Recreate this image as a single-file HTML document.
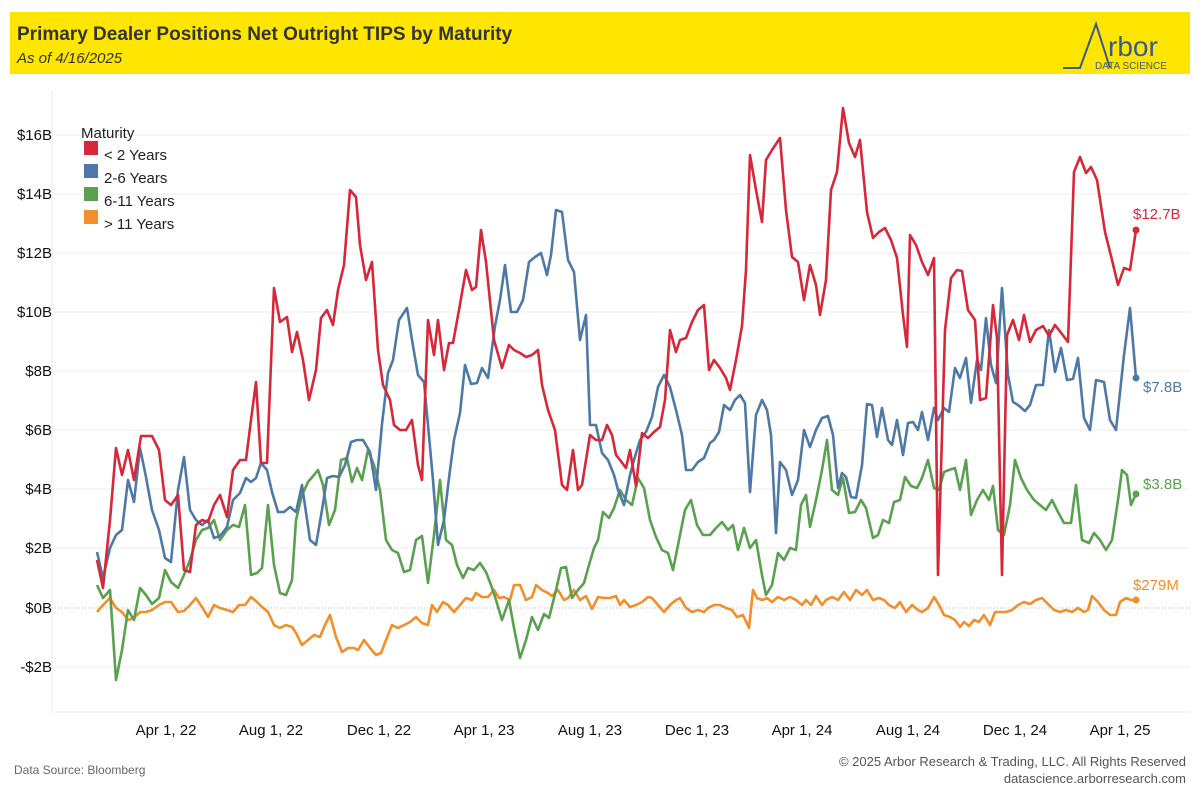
<!DOCTYPE html>
<html><head><meta charset="utf-8"><style>
body{margin:0;width:1200px;height:800px;background:#fff;font-family:"Liberation Sans",sans-serif;overflow:hidden}
</style></head><body>
<svg width="1200" height="800" xmlns="http://www.w3.org/2000/svg" font-family="Liberation Sans, sans-serif">
<rect x="10" y="12" width="1180" height="62" fill="#ffe600"/>
<text x="17" y="40" font-size="19" font-weight="bold" fill="#333">Primary Dealer Positions Net Outright TIPS by Maturity</text>
<text x="17" y="63" font-size="15" font-style="italic" fill="#333">As of 4/16/2025</text>
<path d="M1063 68 L1080 68 L1096 24 L1110 68" fill="none" stroke="#3a5a8c" stroke-width="2"/>
<text x="1108" y="56" font-size="28" fill="#3a5a8c">rbor</text>
<text x="1095" y="69" font-size="10" fill="#3a5a8c">DATA SCIENCE</text>
<g stroke="#ececec" stroke-width="1">
<line x1="52" x2="1190" y1="135" y2="135"/><line x1="52" x2="1190" y1="194" y2="194"/><line x1="52" x2="1190" y1="253" y2="253"/><line x1="52" x2="1190" y1="312" y2="312"/><line x1="52" x2="1190" y1="371" y2="371"/><line x1="52" x2="1190" y1="430" y2="430"/><line x1="52" x2="1190" y1="489" y2="489"/><line x1="52" x2="1190" y1="548" y2="548"/><line x1="52" x2="1190" y1="667" y2="667"/>
<line x1="52" x2="52" y1="90" y2="712"/><line x1="52" x2="1190" y1="712" y2="712"/>
</g>
<line x1="52" x2="1190" y1="608" y2="608" stroke="#bbb" stroke-dasharray="1,2"/>
<g font-size="15" fill="#111" text-anchor="end">
<text x="52" y="140">$16B</text><text x="52" y="199">$14B</text><text x="52" y="258">$12B</text><text x="52" y="317">$10B</text><text x="52" y="376">$8B</text><text x="52" y="435">$6B</text><text x="52" y="494">$4B</text><text x="52" y="553">$2B</text><text x="52" y="613">$0B</text><text x="52" y="672">-$2B</text>
</g>
<g font-size="15" fill="#111" text-anchor="middle">
<text x="166" y="735">Apr 1, 22</text><text x="271" y="735">Aug 1, 22</text><text x="379" y="735">Dec 1, 22</text><text x="484" y="735">Apr 1, 23</text><text x="590" y="735">Aug 1, 23</text><text x="697" y="735">Dec 1, 23</text><text x="802" y="735">Apr 1, 24</text><text x="908" y="735">Aug 1, 24</text><text x="1015" y="735">Dec 1, 24</text><text x="1120" y="735">Apr 1, 25</text>
</g>
<g fill="none" stroke-width="2.6" stroke-linejoin="round">
<polyline stroke="#f28e2b" points="97,612 103,605 110,598 116,608 122,612 128,620 134,618 140,612 146,612 152,610 159,605 165,602 171,602 178,612 184,611 190,605 196,598 202,607 208,617 214,605 220,608 227,610 233,612 239,605 245,605 251,597 257,602 262,607 268,612 274,625 280,628 286,625 292,627 296,633 302,645 308,640 314,635 320,637 325,625 330,615 336,637 342,652 348,648 354,648 358,650 364,640 370,648 376,655 381,653 386,640 392,625 398,628 404,625 410,622 416,617 422,623 428,625 432,605 437,612 443,602 448,605 454,612 460,605 466,598 472,600 476,593 482,597 488,597 494,590 499,598 504,597 510,600 514,585 520,585 526,600 532,597 536,585 542,590 548,593 552,596 558,590 564,600 568,598 574,590 580,600 586,596 592,609 598,597 604,598 610,598 616,596 620,605 624,600 630,607 636,605 642,602 648,597 652,598 658,605 664,612 670,605 676,600 680,598 686,608 692,612 698,610 704,612 708,608 714,605 720,605 726,608 732,610 737,617 743,615 749,628 753,590 757,598 762,600 767,598 772,602 778,597 784,600 790,597 796,600 802,605 806,600 811,605 816,596 822,605 826,600 832,597 838,600 844,592 850,600 856,590 862,595 867,590 873,600 879,598 884,600 889,605 895,608 900,602 906,612 912,605 918,610 922,612 928,608 934,597 939,605 944,615 950,617 955,620 960,627 964,622 969,626 974,620 979,622 984,615 990,625 995,612 1000,612 1006,612 1012,610 1018,605 1024,602 1030,604 1036,600 1042,598 1048,604 1054,610 1060,612 1066,610 1072,612 1078,608 1084,612 1088,610 1092,596 1098,602 1104,610 1110,615 1116,615 1120,602 1126,598 1131,600 1136,600"/>
<polyline stroke="#59a14f" points="97,585 103,598 110,590 116,680 122,650 128,610 134,620 140,588 146,595 152,604 159,598 165,570 171,582 178,588 184,575 190,560 196,540 202,530 208,528 214,520 220,540 227,530 233,525 239,527 245,505 251,575 257,573 262,568 268,505 274,565 280,593 286,595 292,580 296,520 302,495 308,482 314,475 318,470 323,485 329,525 335,510 341,460 347,458 352,482 357,468 362,480 368,450 374,465 380,490 386,540 392,550 398,553 404,572 410,570 416,540 422,536 428,583 434,535 440,480 446,540 452,545 457,565 463,578 468,568 474,570 480,563 486,572 491,585 496,600 502,620 509,600 514,628 520,658 526,640 532,617 538,630 544,614 549,618 556,590 561,568 566,567 572,598 578,590 584,583 589,565 594,548 598,540 603,512 609,518 614,508 620,490 626,500 632,505 638,478 644,488 650,520 656,537 662,550 668,553 673,570 679,540 685,510 691,500 697,525 703,535 710,535 716,528 722,522 728,530 733,525 738,550 744,528 750,548 756,540 762,575 766,595 772,585 778,553 784,560 790,548 796,550 801,505 806,495 810,527 816,500 822,470 827,440 832,490 838,495 843,478 849,513 855,512 861,500 866,508 873,538 878,535 883,520 889,523 894,502 900,500 905,477 911,486 917,488 922,478 928,460 934,488 939,490 944,472 949,470 955,468 960,490 966,460 971,515 977,500 983,490 989,500 993,486 998,530 1004,535 1010,505 1015,460 1021,478 1027,490 1034,500 1040,505 1046,510 1052,500 1058,512 1064,523 1071,523 1076,485 1082,540 1089,543 1094,533 1100,540 1106,550 1112,540 1118,500 1122,470 1127,475 1131,505 1136,494"/>
<polyline stroke="#4e79a7" points="97,552 103,578 110,548 116,535 122,530 128,480 134,502 140,448 146,477 152,510 159,530 165,558 171,562 178,490 184,457 190,510 196,520 202,525 208,520 214,538 220,536 227,527 233,500 240,493 246,478 251,482 256,478 261,463 267,470 272,492 278,512 284,512 290,507 296,512 302,485 310,540 316,545 322,510 327,478 333,476 339,477 345,465 351,442 357,440 363,440 370,452 376,490 382,424 388,373 393,360 399,320 407,308 412,340 418,375 424,382 428,425 433,480 438,545 444,520 449,478 454,440 460,413 465,365 471,384 477,383 482,368 488,378 495,326 500,300 505,265 511,312 517,312 523,300 529,262 535,257 541,253 547,275 551,255 556,210 562,212 568,260 574,272 580,340 586,315 590,425 596,425 602,453 608,460 614,475 618,490 624,505 630,475 634,460 640,440 646,432 652,417 658,387 664,375 670,387 676,410 682,435 686,470 692,470 698,462 704,458 710,443 714,440 719,432 724,405 730,410 735,400 740,395 745,403 750,492 756,415 762,400 767,410 771,435 776,533 780,462 786,470 792,495 798,480 804,430 810,447 816,430 822,418 828,416 833,435 838,488 842,473 846,477 851,497 856,498 862,465 867,404 872,405 877,437 882,408 888,440 892,445 897,420 903,455 908,423 913,422 918,430 922,412 928,440 934,408 938,420 944,408 949,412 955,368 960,378 966,358 971,403 977,360 981,370 986,318 991,365 996,383 1002,288 1008,375 1013,402 1018,405 1025,411 1030,405 1036,385 1043,385 1049,330 1055,372 1061,348 1067,380 1073,379 1078,358 1084,418 1090,430 1096,380 1104,382 1110,420 1116,430 1124,355 1130,308 1136,378"/>
<polyline stroke="#d62839" points="97,560 103,588 110,520 116,448 122,475 128,450 134,480 141,436 152,436 159,450 165,500 171,505 178,495 184,570 190,572 196,525 202,520 208,522 214,505 220,495 227,517 233,470 240,460 246,460 251,420 256,382 261,463 267,463 274,288 280,322 287,317 292,352 297,332 303,360 309,400 316,370 321,318 327,310 333,325 338,290 344,265 350,190 356,197 360,245 366,280 372,262 378,350 383,385 390,400 394,425 400,430 406,430 412,420 418,465 422,480 428,320 434,355 438,320 444,370 449,343 453,343 459,310 466,270 472,290 476,287 481,230 486,262 494,340 502,368 509,345 514,350 520,353 526,357 532,355 538,350 542,385 548,410 555,430 562,485 567,490 573,450 578,490 582,485 590,435 596,440 602,440 607,425 612,435 616,455 620,460 626,468 630,450 636,486 642,433 648,438 654,432 660,427 665,400 670,330 676,352 680,340 686,338 692,322 698,310 704,305 709,370 714,360 720,368 726,378 730,390 736,360 742,326 746,270 750,155 756,190 762,222 766,160 772,150 780,138 786,210 792,257 798,262 804,300 810,265 816,285 820,315 826,280 831,190 837,172 843,108 849,143 855,157 860,140 867,212 873,238 879,232 885,228 891,240 897,258 903,315 907,347 910,235 916,245 922,262 928,275 934,258 938,575 945,330 951,278 957,270 962,271 968,310 975,320 980,400 986,398 993,305 997,338 1002,575 1007,335 1013,320 1019,340 1024,315 1030,342 1036,330 1043,326 1049,336 1055,325 1062,334 1068,342 1074,172 1080,157 1086,173 1091,167 1097,180 1105,232 1112,260 1118,285 1124,268 1130,270 1136,230"/>
</g>
<circle cx="1136" cy="230" r="3.5" fill="#d62839"/><circle cx="1136" cy="378" r="3.5" fill="#4e79a7"/><circle cx="1136" cy="494" r="3.5" fill="#59a14f"/><circle cx="1136" cy="600" r="3.5" fill="#f28e2b"/>
<g font-size="15">
<text x="1133" y="219" fill="#d62839">$12.7B</text>
<text x="1143" y="392" fill="#4e79a7">$7.8B</text>
<text x="1143" y="489" fill="#59a14f">$3.8B</text>
<text x="1133" y="590" fill="#f28e2b">$279M</text>
</g>
<g font-size="15" fill="#222">
<text x="81" y="138">Maturity</text>
<rect x="84" y="141" width="14" height="14" fill="#d62839"/><text x="104" y="160">&lt; 2 Years</text>
<rect x="84" y="164" width="14" height="14" fill="#4e79a7"/><text x="104" y="183">2-6 Years</text>
<rect x="84" y="187" width="14" height="14" fill="#59a14f"/><text x="104" y="206">6-11 Years</text>
<rect x="84" y="210" width="14" height="14" fill="#f28e2b"/><text x="104" y="229">&gt; 11 Years</text>
</g>
<text x="14" y="774" font-size="12" fill="#666">Data Source: Bloomberg</text>
<text x="1186" y="766" font-size="13" fill="#555" text-anchor="end">© 2025 Arbor Research &amp; Trading, LLC. All Rights Reserved</text>
<text x="1186" y="783" font-size="13" fill="#555" text-anchor="end">datascience.arborresearch.com</text>
</svg>
</body></html>
